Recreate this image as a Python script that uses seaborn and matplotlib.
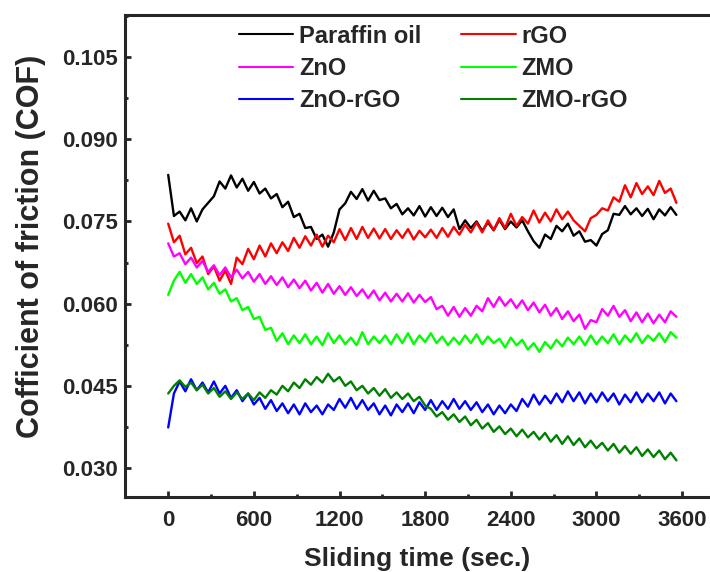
import numpy as np
import pandas as pd
import matplotlib
matplotlib.use("Agg")
import matplotlib.pyplot as plt
import matplotlib.ticker as mticker
import seaborn as sns

# ── data (COF x 1e-3, one sample every 40 s) ─────────────────────────────────

time_s = list(range(0, 3600, 40))

paraffin = [83.5, 76.0, 76.8, 75.2, 77.4, 75.0, 77.2, 78.4, 79.6, 82.3,
            81.0, 83.4, 81.2, 82.8, 80.6, 82.2, 80.1, 81.0, 79.2, 80.0,
            77.6, 78.6, 75.8, 76.4, 73.8, 74.0, 71.8, 72.6, 70.4, 73.0,
            77.2, 78.3, 80.4, 79.1, 80.9, 78.8, 80.6, 78.9, 79.2, 77.4,
            78.2, 76.3, 77.4, 76.1, 77.8, 75.9, 77.6, 76.0, 77.5, 75.8,
            77.2, 73.6, 75.2, 73.8, 75.0, 73.3, 74.8, 73.4, 75.3, 73.6,
            75.0, 73.9, 75.2, 73.2, 71.4, 70.2, 72.6, 71.8, 74.2, 73.2,
            74.6, 72.4, 73.2, 71.3, 71.6, 70.6, 72.7, 73.4, 76.4, 76.2,
            77.8, 76.3, 77.4, 76.0, 77.3, 75.4, 77.2, 76.1, 77.6, 76.2]

rgo = [74.6, 71.2, 72.4, 69.0, 70.2, 67.4, 68.6, 65.4, 66.8, 64.2,
       66.0, 63.6, 68.4, 67.2, 70.0, 68.1, 70.6, 68.6, 71.0, 69.2,
       71.2, 69.6, 72.0, 70.2, 72.3, 70.6, 72.6, 70.4, 72.4, 71.2,
       73.6, 71.6, 73.8, 71.8, 74.0, 72.0, 73.7, 71.9, 73.6, 71.8,
       73.4, 72.0, 73.6, 71.7, 73.3, 72.1, 73.5, 72.0, 73.8, 72.2,
       74.0, 72.6, 74.4, 73.0, 74.8, 73.0, 75.2, 73.4, 75.6, 73.8,
       76.4, 74.2, 75.8, 74.6, 77.0, 74.8, 76.6, 75.0, 77.2, 75.4,
       76.8, 75.2, 74.2, 73.2, 75.6, 76.2, 77.4, 77.0, 79.4, 78.6,
       81.6, 79.4, 82.0, 80.0, 81.4, 79.8, 82.4, 80.2, 81.0, 78.4]

zno = [71.0, 68.6, 69.2, 67.2, 68.4, 66.6, 67.8, 65.8, 67.0, 65.2,
       66.6, 64.8, 66.2, 64.6, 65.8, 64.0, 65.4, 63.6, 65.0, 63.4,
       64.8, 63.0, 64.4, 62.8, 64.2, 62.4, 63.8, 62.0, 63.6, 61.8,
       63.2, 61.6, 63.0, 61.4, 62.6, 61.0, 62.4, 60.6, 62.0, 60.4,
       61.8, 60.4, 61.9, 60.2, 61.6, 60.3, 61.2, 59.0, 59.6, 57.8,
       59.4, 57.6, 59.2, 57.8, 59.6, 58.6, 61.0, 59.4, 61.2, 59.6,
       60.8, 59.2, 60.6, 58.8, 60.2, 58.4, 59.8, 57.8, 59.2, 57.2,
       58.6, 56.8, 58.0, 55.4, 57.0, 56.6, 59.0, 57.8, 59.6, 57.6,
       58.8, 56.8, 58.4, 56.6, 58.2, 56.4, 58.0, 56.6, 58.6, 57.6]

zmo = [61.6, 64.2, 65.8, 63.8, 65.4, 63.6, 64.8, 62.6, 63.8, 61.8,
       62.6, 60.4, 61.0, 58.8, 59.4, 57.2, 57.6, 55.2, 55.6, 53.2,
       54.6, 52.6, 54.2, 52.8, 54.4, 52.6, 54.0, 52.4, 54.6, 52.8,
       54.2, 52.6, 53.8, 52.4, 54.8, 52.6, 54.0, 52.8, 54.2, 52.6,
       54.4, 52.8, 54.6, 52.6, 54.2, 53.0, 54.6, 52.8, 54.0, 52.4,
       53.8, 52.6, 54.2, 52.8, 54.4, 52.6, 54.0, 52.8, 53.6, 52.0,
       53.8, 52.4, 53.4, 51.6, 52.8, 51.2, 53.0, 51.8, 53.4, 52.2,
       53.8, 52.6, 54.0, 52.4, 54.2, 52.6, 54.0, 52.8, 54.4, 52.6,
       54.2, 53.0, 54.6, 52.8, 54.2, 53.2, 54.6, 53.0, 54.8, 53.8]

zno_rgo = [37.4, 43.6, 45.8, 44.0, 46.2, 44.2, 45.6, 43.8, 45.8, 43.6,
           45.0, 42.8, 44.2, 42.2, 43.6, 41.6, 42.8, 40.8, 42.4, 40.4,
           41.8, 40.0, 41.6, 39.8, 41.8, 40.2, 41.4, 39.8, 41.6, 40.6,
           42.6, 41.0, 42.8, 40.8, 42.4, 40.6, 41.8, 39.8, 41.4, 39.6,
           41.6, 40.2, 41.8, 40.0, 42.0, 40.6, 42.4, 40.6, 42.2, 40.8,
           42.6, 40.8, 42.2, 40.6, 42.0, 40.2, 41.6, 39.8, 41.4, 40.0,
           41.6, 40.4, 42.6, 41.2, 43.4, 41.6, 43.2, 41.8, 43.6, 42.0,
           44.0, 42.2, 43.8, 41.8, 43.6, 42.0, 43.8, 42.2, 43.6, 41.6,
           43.4, 42.0, 43.8, 42.0, 43.6, 42.2, 43.8, 41.8, 43.6, 42.2]

zmo_rgo = [43.6, 45.0, 46.0, 44.8, 45.6, 44.2, 45.2, 43.6, 44.6, 43.0,
           44.0, 42.6, 43.8, 42.6, 43.6, 42.4, 43.8, 42.8, 44.2, 43.4,
           45.0, 44.0, 45.6, 44.6, 46.2, 45.2, 46.6, 45.6, 47.2, 45.8,
           46.6, 45.0, 45.8, 44.2, 45.0, 43.6, 44.6, 43.2, 44.4, 42.8,
           43.8, 42.6, 43.6, 42.2, 43.0, 41.4, 40.8, 39.4, 40.2, 38.8,
           39.8, 38.4, 39.4, 37.8, 38.8, 37.2, 38.2, 36.6, 37.6, 36.2,
           37.2, 35.8, 37.0, 35.6, 36.6, 35.2, 36.4, 34.8, 36.0, 34.4,
           35.8, 34.2, 35.4, 33.8, 35.0, 33.6, 34.6, 33.2, 34.4, 32.8,
           34.0, 32.6, 33.8, 32.2, 33.4, 32.0, 33.2, 31.6, 32.8, 31.4]

SERIES = {
    "Paraffin oil": paraffin,
    "rGO": rgo,
    "ZnO": zno,
    "ZMO": zmo,
    "ZnO-rGO": zno_rgo,
    "ZMO-rGO": zmo_rgo,
}

PALETTE = {
    "Paraffin oil": "#000000",
    "rGO":          "#FF0000",
    "ZnO":          "#FF00FF",
    "ZMO":          "#00FF00",
    "ZnO-rGO":      "#0000FF",
    "ZMO-rGO":      "#008000",
}

LEGEND_ORDER = ["Paraffin oil", "ZnO", "ZnO-rGO", "rGO", "ZMO", "ZMO-rGO"]

sns.set_theme(style="ticks")
plt.rcParams["font.family"] = ["Liberation Sans", "DejaVu Sans"]
plt.rcParams["font.weight"] = "bold"

df = pd.concat(
    [pd.DataFrame({"time": time_s, "cof": np.array(v) / 1000, "sample": k})
     for k, v in SERIES.items()],
    ignore_index=True,
)

fig = plt.figure(figsize=(7.10, 5.72), dpi=100)
ax = fig.add_axes([0.176, 0.131, 0.845, 0.843])

sns.lineplot(data=df, x="time", y="cof", hue="sample", hue_order=list(SERIES),
             palette=PALETTE, estimator=None, sort=False, linewidth=1.7, ax=ax)

ax.set_xlim(-303, 3900)
ax.set_ylim(0.0247, 0.1127)
ax.xaxis.set_major_locator(mticker.MultipleLocator(600))
ax.xaxis.set_minor_locator(mticker.MultipleLocator(300))
ax.yaxis.set_major_locator(mticker.FixedLocator([0.030, 0.045, 0.060, 0.075, 0.090, 0.105]))
ax.yaxis.set_minor_locator(mticker.MultipleLocator(0.0075))
ax.yaxis.set_major_formatter(mticker.FormatStrFormatter("%.3f"))

for s in ax.spines.values():
    s.set_linewidth(2.2)
ax.tick_params(which="both", direction="in", width=2, labelsize=16)
ax.tick_params(which="major", length=4)
ax.tick_params(which="minor", length=2.5)
ax.tick_params(axis="x", pad=9)
ax.tick_params(axis="y", pad=5)
for lab in ax.get_xticklabels() + ax.get_yticklabels():
    lab.set_fontweight("bold")

ax.set_xlabel("Sliding time (sec.)", fontsize=19, fontweight="bold")
ax.set_ylabel("Cofficient of friction (COF)", fontsize=22, fontweight="bold")
ax.xaxis.set_label_coords(0.487, -0.103)
ax.yaxis.set_label_coords(-0.131, 0.52)

handles, labels = ax.get_legend_handles_labels()
lookup = dict(zip(labels, handles))
leg = ax.legend([lookup[k] for k in LEGEND_ORDER], LEGEND_ORDER, ncol=2,
                loc="upper left", bbox_to_anchor=(0.17, 1.004), frameon=False,
                borderpad=0, prop={"size": 17, "weight": "bold"},
                handlelength=2.3, handletextpad=0.25, columnspacing=1.7,
                labelspacing=0.39)
for line in leg.get_lines():
    line.set_linewidth(1.5)

fig.savefig("out.png", dpi=100)
